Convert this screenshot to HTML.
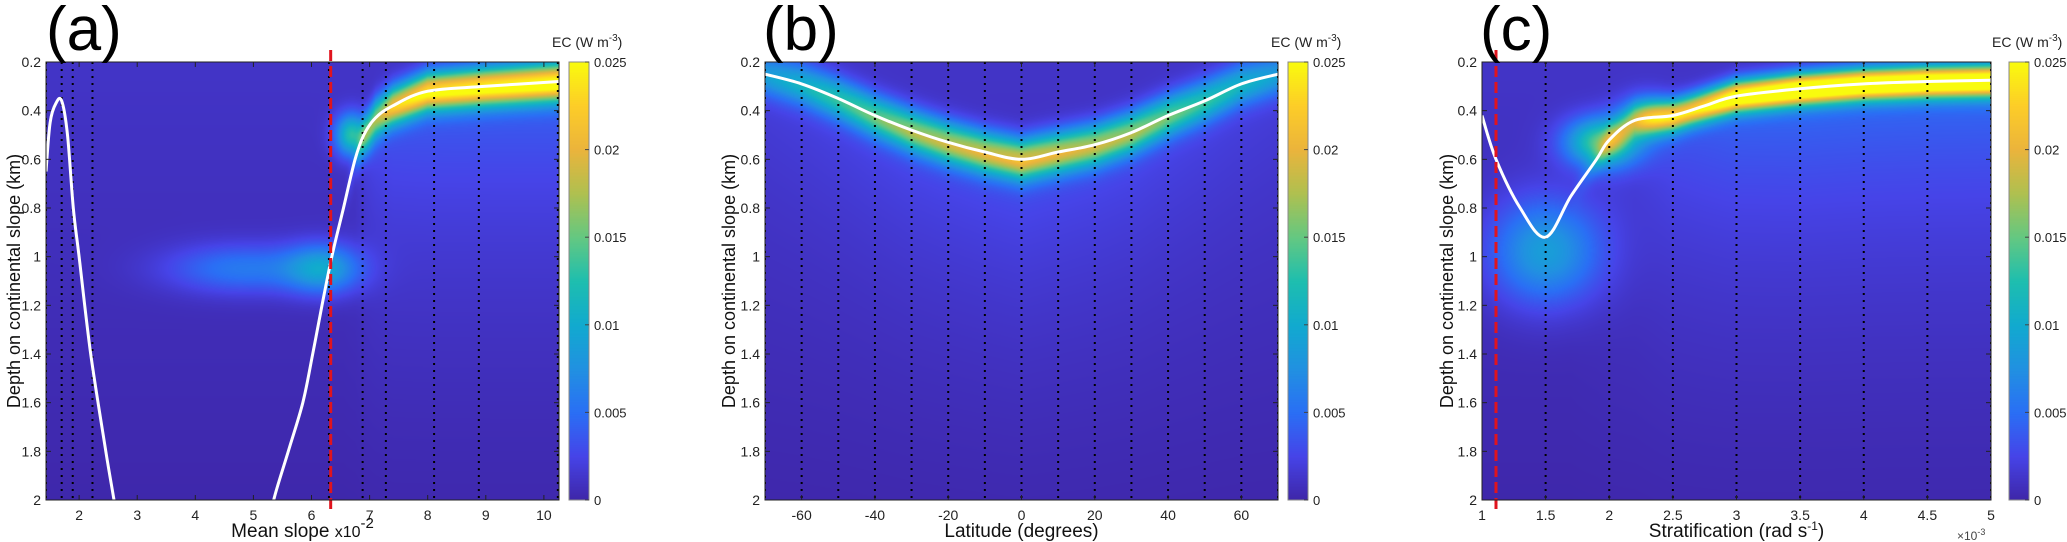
<!DOCTYPE html>
<html><head><meta charset="utf-8">
<style>
html,body{margin:0;padding:0;background:#fff;}
#wrap{position:relative;width:2067px;height:542px;overflow:hidden;font-family:"Liberation Sans",sans-serif;}
canvas{position:absolute;}
svg{position:absolute;left:0;top:0;}
</style></head>
<body>
<div id="wrap">
<canvas id="cva"></canvas>
<canvas id="cvb"></canvas>
<canvas id="cvc"></canvas>
<canvas id="cba"></canvas>
<canvas id="cbb"></canvas>
<canvas id="cbc"></canvas>
<svg id="svg" width="2067" height="542"></svg>
</div>
<script>
// ---------- data ----------
const yTicks=[0.2,0.4,0.6,0.8,1,1.2,1.4,1.6,1.8,2];
const cbTicks=[0,0.005,0.01,0.015,0.02,0.025];
// panel a
const aXTicks=[2,3,4,5,6,7,8,9,10];
const aLines=[1.43,1.70,1.89,2.23,6.30,6.88,7.28,8.11,8.88,10.24];
const aRed=6.33;
const aCurve1X=[1.43,1.5,1.6,1.7,1.8,1.9,2.0,2.2,2.46,2.6,2.7];
const aCurve1D=[0.65,0.45,0.37,0.36,0.5,0.8,1.0,1.4,1.8,2.0,2.15];
const aCurve2X=[5.3,5.35,5.6,5.85,6.02,6.18,6.35,6.55,6.75,6.9,7.1,7.4,8.0,9.0,10.26];
const aCurve2D=[2.1,2.0,1.8,1.6,1.4,1.2,1.0,0.8,0.6,0.5,0.43,0.38,0.32,0.3,0.28];
const aBandI=[0,0,0,0,0,0,0,0,0.002,0.008,0.014,0.019,0.022,0.023,0.024];
const aBlobX=[4.8,6.2,6.7];
const aBlobD=[1.05,1.05,0.5];
const aBlobV=[0.005,0.008,0.012];
const aBlobSX=[0.9,0.45,0.2];
const aBlobSD=[0.07,0.07,0.06];
// panel b
const bXTicks=[-60,-40,-20,0,20,40,60];
const bLines=[-70,-60,-50,-40,-30,-20,-10,0,10,20,30,40,50,60,70];
const bCurveX=[-70,-60,-50,-40,-30,-20,-10,0,10,20,30,40,50,60,70];
const bCurveD=[0.25,0.29,0.35,0.42,0.48,0.53,0.57,0.6,0.57,0.54,0.49,0.42,0.36,0.29,0.25];
const bBandI=[0.007,0.009,0.011,0.013,0.015,0.016,0.017,0.018,0.017,0.016,0.015,0.013,0.011,0.009,0.007];
const bBlobX=[];
const bBlobD=[];
const bBlobV=[];
const bBlobSX=[];
const bBlobSD=[];
// panel c
const cXTicks=[1,1.5,2,2.5,3,3.5,4,4.5,5];
const cLines=[1.5,2,2.5,3,3.5,4,4.5,5];
const cRed=1.11;
const cCurveX=[1,1.11,1.3,1.5,1.7,1.9,2.0,2.2,2.5,2.75,3,3.5,4,4.5,5];
const cCurveD=[0.42,0.6,0.8,0.92,0.75,0.6,0.52,0.44,0.42,0.38,0.34,0.31,0.29,0.28,0.275];
const cBandI=[0,0,0,0,0,0.003,0.006,0.009,0.018,0.022,0.026,0.028,0.028,0.028,0.028];
const cBlobX=[1.5,1.95,2.3];
const cBlobD=[0.98,0.53,0.42];
const cBlobV=[0.008,0.014,0.008];
const cBlobSX=[0.3,0.2,0.15];
const cBlobSD=[0.15,0.07,0.06];

// ---------- layout ----------
const TOP=62,BOT=500,YMIN=0.2,YMAX=2;
const panels=[
 {id:'a',L:46,R:559,xmin:1.43,xmax:10.26,cbL:569,ticks:aXTicks,lines:aLines,red:aRed,
  curves:[[aCurve1X,aCurve1D],[aCurve2X,aCurve2D]],bandX:aCurve2X,bandD:aCurve2D,bandI:aBandI,sig:0.055,
  blobX:aBlobX,blobD:aBlobD,blobV:aBlobV,blobSX:aBlobSX,blobSD:aBlobSD,title:'(a)',tx:46,
  xlabel:'Mean slope',ylx:14},
 {id:'b',L:765,R:1278,xmin:-70,xmax:70,cbL:1288,ticks:bXTicks,lines:bLines,red:null,
  curves:[[bCurveX,bCurveD]],bandX:bCurveX,bandD:bCurveD,bandI:bBandI,sig:0.06,
  blobX:bBlobX,blobD:bBlobD,blobV:bBlobV,blobSX:bBlobSX,blobSD:bBlobSD,title:'(b)',tx:763,
  xlabel:'Latitude (degrees)',ylx:729},
 {id:'c',L:1482,R:1991,xmin:1,xmax:5,cbL:2009,ticks:cXTicks,lines:cLines,red:cRed,
  curves:[[cCurveX,cCurveD]],bandX:cCurveX,bandD:cCurveD,bandI:cBandI,sig:0.045,
  blobX:cBlobX,blobD:cBlobD,blobV:cBlobV,blobSX:cBlobSX,blobSD:cBlobSD,title:'(c)',tx:1480,
  xlabel:'Stratification (rad s',ylx:1447}
];
const VMAX=0.025;
const PAR=[[0,62,38,168],[0.1,70,68,232],[0.2,42,111,245],[0.3,33,145,225],[0.4,17,170,207],[0.5,30,190,175],[0.6,100,200,130],[0.7,175,192,80],[0.8,235,180,60],[0.9,253,205,40],[1,249,251,14]];
function parula(t){t=Math.max(0,Math.min(1,t));for(let i=1;i<PAR.length;i++){if(t<=PAR[i][0]){const a=PAR[i-1],b=PAR[i],f=(t-a[0])/(b[0]-a[0]);return [a[1]+(b[1]-a[1])*f,a[2]+(b[2]-a[2])*f,a[3]+(b[3]-a[3])*f];}}return PAR[PAR.length-1].slice(1);}
function interp(xs,ys,x){if(x<=xs[0])return ys[0];for(let i=1;i<xs.length;i++){if(x<=xs[i]){const f=(x-xs[i-1])/(xs[i]-xs[i-1]);return ys[i-1]+(ys[i]-ys[i-1])*f;}}return ys[ys.length-1];}
const NS='http://www.w3.org/2000/svg';
const svg=document.getElementById('svg');
function el(tag,attrs,parent){const e=document.createElementNS(NS,tag);for(const k in attrs)e.setAttribute(k,attrs[k]);(parent||svg).appendChild(e);return e;}
function catmull(pts){let d='M'+pts[0][0]+','+pts[0][1];for(let i=0;i<pts.length-1;i++){const p0=pts[i-1]||pts[i],p1=pts[i],p2=pts[i+1],p3=pts[i+2]||p2;const c1=[p1[0]+(p2[0]-p0[0])/6,p1[1]+(p2[1]-p0[1])/6],c2=[p2[0]-(p3[0]-p1[0])/6,p2[1]-(p3[1]-p1[1])/6];d+=' C'+c1[0].toFixed(1)+','+c1[1].toFixed(1)+' '+c2[0].toFixed(1)+','+c2[1].toFixed(1)+' '+p2[0].toFixed(1)+','+p2[1].toFixed(1);}return d;}

panels.forEach(p=>{
 const W=p.R-p.L,H=BOT-TOP;
 const sx=v=>p.L+(v-p.xmin)/(p.xmax-p.xmin)*W;
 const sy=v=>TOP+(v-YMIN)/(YMAX-YMIN)*H;
 const cv=document.getElementById('cv'+p.id);cv.width=W;cv.height=H;cv.style.left=p.L+'px';cv.style.top=TOP+'px';
 const ctx=cv.getContext('2d');const img=ctx.createImageData(W,H);
 for(let i=0;i<W;i++){
  const x=p.xmin+(i+0.5)/W*(p.xmax-p.xmin);
  const inBand=x>=p.bandX[0]&&x<=p.bandX[p.bandX.length-1];
  const d0=interp(p.bandX,p.bandD,x),I=inBand?interp(p.bandX,p.bandI,x):0;
  for(let j=0;j<H;j++){
   const d=YMIN+(j+0.5)/H*(YMAX-YMIN);
   let v=0.0012*(1-(d-0.2)/2);
   const z=(d-d0)/p.sig;
   v+=I*Math.exp(-0.5*z*z);
   if(d>d0)v+=I*0.15*Math.exp(-(d-d0)/0.5);
   for(let k=0;k<p.blobX.length;k++){const a=(x-p.blobX[k])/p.blobSX[k],b=(d-p.blobD[k])/p.blobSD[k];v+=p.blobV[k]*Math.exp(-0.5*(a*a+b*b));}
   const c=parula(v/VMAX);const o=(j*W+i)*4;img.data[o]=c[0];img.data[o+1]=c[1];img.data[o+2]=c[2];img.data[o+3]=255;}
 }
 ctx.putImageData(img,0,0);
 const cb=document.getElementById('cb'+p.id);cb.width=20;cb.height=H;cb.style.left=p.cbL+'px';cb.style.top=TOP+'px';
 const cctx=cb.getContext('2d');for(let j=0;j<H;j++){const c=parula(1-j/H);cctx.fillStyle='rgb('+c.map(Math.round).join(',')+')';cctx.fillRect(0,j,20,1);}
 const g=el('g',{});
 
 
 const clip=el('clipPath',{id:'clip'+p.id},g);el('rect',{x:p.L,y:TOP,width:W,height:H},clip);
 p.lines.forEach(v=>{
  const ln=el('line',{x1:sx(v),x2:sx(v),y1:TOP,y2:BOT,stroke:'#000','stroke-width':2,'stroke-dasharray':'2,5','clip-path':'url(#clip'+p.id+')'},g);
  
  
 });
 p.curves.forEach(cu=>{
  const pts=cu[0].map((x,i)=>[sx(x),sy(cu[1][i])]);
  const pa=el('path',{d:catmull(pts),fill:'none',stroke:'#fff','stroke-width':3,'clip-path':'url(#clip'+p.id+')'},g);
  
  
 });
 if(p.red!==null){
  const r=el('line',{x1:sx(p.red),x2:sx(p.red),y1:TOP-12,y2:BOT+12,stroke:'#e0141e','stroke-width':3,'stroke-dasharray':'11,5'},g);
  
  
 }
 const bx=el('rect',{x:p.L,y:TOP,width:W,height:H,fill:'none',stroke:'#222','stroke-width':1},g);
 
 
 yTicks.forEach(v=>{
  el('line',{x1:p.L,x2:p.L+5,y1:sy(v),y2:sy(v),stroke:'#222'},g);
  el('line',{x1:p.R,x2:p.R-5,y1:sy(v),y2:sy(v),stroke:'#222'},g);
  const t=el('text',{x:p.L-5,y:sy(v)+5,'text-anchor':'end','font-size':14,fill:'#222'},g);t.textContent=String(v);
  
  
 });
 p.ticks.forEach(v=>{
  el('line',{x1:sx(v),x2:sx(v),y1:BOT,y2:BOT-5,stroke:'#222'},g);
  el('line',{x1:sx(v),x2:sx(v),y1:TOP,y2:TOP+5,stroke:'#222'},g);
  const t=el('text',{x:sx(v),y:520,'text-anchor':'middle','font-size':14,fill:'#222'},g);t.textContent=String(v);
  
  
 });
 const yl=el('text',{x:p.ylx,y:(TOP+BOT)/2,transform:'rotate(-90 '+p.ylx+' '+((TOP+BOT)/2)+')','text-anchor':'middle','dominant-baseline':'central','font-size':18,fill:'#111'},g);
 yl.textContent='Depth on continental slope (km)';
 
 
 const tt=el('text',{x:p.tx,y:50,'font-size':62,fill:'#000'},g);tt.textContent=p.title;
 
 
 el('rect',{x:p.cbL,y:TOP,width:20,height:H,fill:'none',stroke:'#888'},g);
 cbTicks.forEach(v=>{
  const y=BOT-v/VMAX*H;
  el('line',{x1:p.cbL+16,x2:p.cbL+20,y1:y,y2:y,stroke:'#444'},g);
  const t=el('text',{x:p.cbL+25,y:y+5,'font-size':13,fill:'#222'},g);t.textContent=String(v);
  
  
 });
 const ct=el('text',{x:p.cbL-17,y:47,'font-size':14,fill:'#222'},g);
 ct.innerHTML='EC (W m<tspan dy="-6" font-size="10">-3</tspan><tspan dy="6">)</tspan>';
 
 
 const cx=(p.L+p.R)/2;
 const xl=el('text',{x:cx,y:537,'text-anchor':'middle','font-size':19,fill:'#111'},g);
 if(p.id==='a')xl.innerHTML='Mean slope <tspan font-size="16">x10</tspan><tspan dy="-9" font-size="15">-2</tspan>';
 else if(p.id==='c')xl.innerHTML='Stratification (rad s<tspan dy="-7" font-size="12">-1</tspan><tspan dy="7">)</tspan>';
 else xl.textContent=p.xlabel;
 
 
 if(p.id==='c'){const m=el('text',{x:1957,y:540,'font-size':12,fill:'#444'},g);m.innerHTML='×10<tspan dy="-5" font-size="9">-3</tspan>';
  
  }
});
</script>
</body></html>
